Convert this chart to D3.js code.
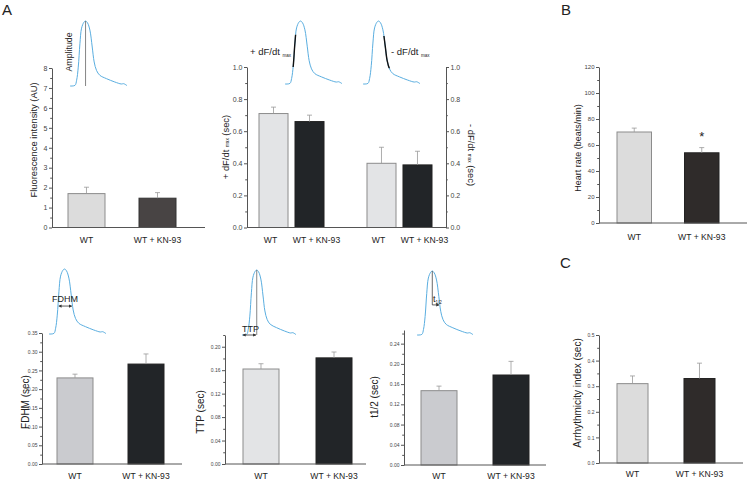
<!DOCTYPE html>
<html><head><meta charset="utf-8">
<script src="https://cdn.jsdelivr.net/npm/d3@7"></script>
<style>body{margin:0;background:#fff}svg{display:block}</style>
</head><body><svg id="c" width="750" height="482"></svg>
<script>
// ---------------- DATA ----------------
const categories = ["WT", "WT + KN-93"];
const amplitudeMean = [1.70, 1.47];
const amplitudeSem  = [0.32, 0.28];
const riseMean = [0.71, 0.66];
const riseSem  = [0.04, 0.04];
const decayMean = [0.40, 0.39];
const decaySem  = [0.10, 0.085];
const heartMean = [70, 54];
const heartSem  = [3, 4];
const fdhmMean = [0.230, 0.267];
const fdhmSem  = [0.010, 0.027];
const ttpMean = [0.162, 0.181];
const ttpSem  = [0.009, 0.010];
const halfMean = [0.147, 0.178];
const halfSem  = [0.009, 0.027];
const arrMean = [0.31, 0.33];
const arrSem  = [0.03, 0.06];

const ampTicks  = [0,1,2,3,4,5,6,7,8];
const ampMinor  = [0.5,1.5,2.5,3.5,4.5,5.5,6.5,7.5];
const dfTicks   = [0,0.2,0.4,0.6,0.8,1.0];
const dfMinor   = [0.1,0.3,0.5,0.7,0.9];
const hrTicks   = [0,20,40,60,80,100,120];
const hrMinor   = [10,30,50,70,90,110];
const fdhmTicks = [0,0.05,0.10,0.15,0.20,0.25,0.30,0.35];
const fdhmMinor = [0.025,0.075,0.125,0.175,0.225,0.275,0.325];
const ttpTicks  = [0,0.04,0.08,0.12,0.16,0.20];
const ttpMinor  = [0.02,0.06,0.10,0.14,0.18,0.22];
const halfTicks = [0,0.04,0.08,0.12,0.16,0.20,0.24];
const halfMinor = [0.02,0.06,0.10,0.14,0.18,0.22,0.26];
const arrTicks  = [0,0.1,0.2,0.3,0.4,0.5];
const arrMinor  = [0.05,0.15,0.25,0.35,0.45];

// normalized Ca2+ transient (time, signal)
const traceTime   = [0,0.087,0.116,0.145,0.174,0.203,0.244,0.273,0.308,0.349,0.39,0.424,0.465,0.523,0.64,0.785,0.90,0.94,0.977,1.0];
const traceSignal = [0,0.01,0.088,0.29,0.65,0.89,0.98,1.0,0.97,0.86,0.60,0.37,0.24,0.165,0.113,0.062,0.031,0.036,0.02,0.005];

// ---------------- DRAWING ----------------
const FONT = '"Liberation Sans", Arial, Helvetica, sans-serif';
const AXIS = "#555";
const TRACE = "#5aaee0";
const CAT_FS = 8.6;
const svg = d3.select("#c").attr("font-family", FONT);
const defs = svg.append("defs");
defs.append("marker").attr("id", "arr").attr("viewBox","0 0 6 6").attr("refX",5).attr("refY",3)
  .attr("markerWidth",4).attr("markerHeight",4).attr("orient","auto-start-reverse")
  .append("path").attr("d", "M0,0 L6,3 L0,6 Z").attr("fill","#333");

function drawYAxis(x, y, ticks, minor, fmt, fs, orient) {
  const axisFn = orient === "right" ? d3.axisRight : d3.axisLeft;
  const g = svg.append("g").attr("transform", `translate(${x},0)`);
  g.call(axisFn(y).tickValues(ticks).tickSize(3).tickSizeOuter(0).tickPadding(1.5).tickFormat(fmt));
  g.select(".domain").attr("stroke", AXIS);
  g.selectAll(".tick line").attr("stroke", AXIS);
  g.selectAll(".tick text").attr("font-size", fs).attr("fill", "#444").attr("font-family", FONT);
  const gm = svg.append("g").attr("transform", `translate(${x},0)`);
  gm.call(axisFn(y).tickValues(minor).tickSize(1.8).tickSizeOuter(0).tickFormat(""));
  gm.select(".domain").remove();
  gm.selectAll(".tick line").attr("stroke", AXIS);
}

function drawBars(xBand, y, means, sems, style) {
  const data = categories.map((c, i) => ({c, m: means[i], s: sems[i], i}));
  const g = svg.append("g");
  g.selectAll("rect").data(data).join("rect")
    .attr("x", d => xBand(d.c)).attr("width", xBand.bandwidth())
    .attr("y", d => y(d.m)).attr("height", d => y(0) - y(d.m))
    .attr("fill", d => style.fill[d.i]).attr("stroke", d => style.stroke[d.i]).attr("stroke-width", 1);
  const cx = d => xBand(d.c) + xBand.bandwidth() / 2;
  g.selectAll("line.e").data(data).join("line").attr("class","e")
    .attr("x1", cx).attr("x2", cx).attr("y1", d => y(d.m)).attr("y2", d => y(d.m + d.s))
    .attr("stroke", "#999").attr("stroke-width", 0.8);
  g.selectAll("line.cap").data(data).join("line").attr("class","cap")
    .attr("x1", d => cx(d) - 2.5).attr("x2", d => cx(d) + 2.5).attr("y1", d => y(d.m + d.s)).attr("y2", d => y(d.m + d.s))
    .attr("stroke", "#999").attr("stroke-width", 0.8);
}

function drawBaseline(x0, x1, yb) {
  svg.append("line").attr("x1", x0).attr("x2", x1).attr("y1", yb).attr("y2", yb).attr("stroke", AXIS);
}

function drawCats(xBand, yText, fs, offsets) {
  const off = offsets || [0, 0];
  svg.append("g").selectAll("text").data(categories).join("text")
    .attr("x", (d, i) => xBand(d) + xBand.bandwidth() / 2 + off[i]).attr("y", yText)
    .attr("text-anchor", "middle").attr("font-size", fs).attr("fill", "#222").text(d => d);
}

function yLabel(x, yc, parts, rot, fs) {
  const t = svg.append("text").attr("transform", `translate(${x},${yc}) rotate(${rot})`)
    .attr("text-anchor", "middle").attr("font-size", fs).attr("fill", "#222").attr("dominant-baseline", "central");
  parts.forEach(p => {
    const s = t.append("tspan").text(p.t);
    if (p.small) s.attr("font-size", fs * 0.5).attr("dy", 2);
    if (p.back) s.attr("dy", -2);
  });
}

function barPanel(o) {
  const y = d3.scaleLinear().domain([0, o.max]).range([o.yb, o.yt]);
  const x = d3.scaleBand().domain(categories).range(o.barRange).paddingInner(o.pad);
  drawBars(x, y, o.means, o.sems, o.style);
  drawBaseline(o.x0, o.x1, o.yb);
  drawYAxis(o.x0, y, o.ticks, o.minor, o.fmt, o.tickFs, "left");
  drawCats(x, o.catY, CAT_FS);
  yLabel(o.labX, o.labY, o.label, -90, o.labFs);
  return {x, y};
}

function drawTrace(x0, x1, yBase, yPeak) {
  const tx = d3.scaleLinear().domain([0, 1]).range([x0, x1]);
  const ty = d3.scaleLinear().domain([0, 1]).range([yBase, yPeak]);
  const pts = traceTime.map((t, i) => ({t, f: traceSignal[i]}));
  const line = d3.line().x(d => tx(d.t)).y(d => ty(d.f)).curve(d3.curveCatmullRom.alpha(0.5));
  svg.append("path").attr("d", line(pts)).attr("fill", "none").attr("stroke", TRACE).attr("stroke-width", 1);
  return {tx, ty, pts, line};
}
const peakIdx = traceSignal.indexOf(d3.max(traceSignal));
const peakT = traceTime[peakIdx];
function crossT(level, side) {
  if (side === "rise") {
    for (let i = 0; i < peakIdx; i++) if (traceSignal[i] <= level && traceSignal[i+1] >= level)
      return traceTime[i] + (level - traceSignal[i]) / (traceSignal[i+1] - traceSignal[i]) * (traceTime[i+1] - traceTime[i]);
  } else {
    for (let i = peakIdx; i < traceSignal.length - 1; i++) if (traceSignal[i] >= level && traceSignal[i+1] <= level)
      return traceTime[i] + (level - traceSignal[i]) / (traceSignal[i+1] - traceSignal[i]) * (traceTime[i+1] - traceTime[i]);
  }
  return peakT;
}
let clipN = 0;
function blackSegment(tr, lo, hi, side) {
  const id = "clip" + (clipN++);
  const xa = side === "rise" ? tr.tx(0) : tr.tx(peakT);
  const xb = side === "rise" ? tr.tx(peakT) : tr.tx(1);
  defs.append("clipPath").attr("id", id).append("rect")
    .attr("x", xa).attr("width", xb - xa).attr("y", tr.ty(hi)).attr("height", tr.ty(lo) - tr.ty(hi));
  svg.append("path").attr("d", tr.line(tr.pts)).attr("fill", "none").attr("stroke", "#111")
    .attr("stroke-width", 1.4).attr("clip-path", `url(#${id})`);
}

// ---- Panel A1: amplitude ----
barPanel({x0: 52, x1: 205, yt: 68, yb: 227.5, max: 8, barRange: [68, 176], pad: 0.479,
  means: amplitudeMean, sems: amplitudeSem, ticks: ampTicks, minor: ampMinor, fmt: d3.format("d"), tickFs: 7,
  style: {fill: ["#dcdcdc", "#484444"], stroke: ["#8c8c8c", "#333"]},
  catY: 243, labX: 33, labY: 140, labFs: 9.4, label: [{t: "Fluorescence intensity (AU)"}]});
{
  const tr = drawTrace(70, 127, 86, 21);
  svg.append("line").attr("x1", tr.tx(peakT)).attr("x2", tr.tx(peakT)).attr("y1", tr.ty(1)).attr("y2", tr.ty(0))
    .attr("stroke", "#666").attr("stroke-width", 0.8);
  svg.append("text").attr("transform", `translate(72,52) rotate(-90)`).attr("text-anchor", "middle")
    .attr("font-size", 8.8).attr("fill", "#222").text("Amplitude");
}

// ---- Panel A2: +/- dF/dt ----
{
  const groups = ["rise", "decay"];
  const gx = d3.scaleBand().domain(groups).range([259, 432]).paddingInner(0.398);
  const y = d3.scaleLinear().domain([0, 1]).range([227.5, 67]);
  const style = {fill: ["#e3e4e6", "#222528"], stroke: ["#8c8c8c", "#222"]};
  [[riseMean, riseSem], [decayMean, decaySem]].forEach(([m, s], gi) => {
    const x = d3.scaleBand().domain(categories).range([gx(groups[gi]), gx(groups[gi]) + gx.bandwidth()]).paddingInner(0.194);
    drawBars(x, y, m, s, style);
    drawCats(x, 243, CAT_FS, [-3, 7]);
  });
  drawBaseline(247, 446, 227.5);
  drawYAxis(247, y, dfTicks, dfMinor, d3.format(".1f"), 7, "left");
  drawYAxis(446, y, dfTicks, dfMinor, d3.format(".1f"), 7, "right");
  yLabel(225, 147, [{t: "+ dF/dt "}, {t: "max", small: true}, {t: " (sec)", back: true}], -90, 9.4);
  yLabel(472, 155, [{t: "- dF/dt "}, {t: "max", small: true}, {t: " (sec)", back: true}], 90, 9.4);

  const t1 = drawTrace(285, 342, 84, 21);
  blackSegment(t1, 0.27, 0.78, "rise");
  const t2 = drawTrace(363, 420, 84, 21);
  blackSegment(t2, 0.25, 0.76, "fall");
  const lab1 = svg.append("text").attr("x", 291).attr("y", 55).attr("text-anchor", "end").attr("font-size", 9.5).attr("fill", "#222");
  lab1.append("tspan").text("+ dF/dt ");
  lab1.append("tspan").attr("font-size", 4.5).attr("dy", 2).text("max");
  const lab2 = svg.append("text").attr("x", 391).attr("y", 55).attr("font-size", 9.5).attr("fill", "#222");
  lab2.append("tspan").text("- dF/dt ");
  lab2.append("tspan").attr("font-size", 4.5).attr("dy", 2).text("max");
}

// ---- Panel B: heart rate ----
{
  const p = barPanel({x0: 599, x1: 747, yt: 67, yb: 223, max: 120, barRange: [617, 719], pad: 0.489,
    means: heartMean, sems: heartSem, ticks: hrTicks, minor: hrMinor, fmt: d3.format("d"), tickFs: 6,
    style: {fill: ["#dcdcdc", "#2f2b2a"], stroke: ["#8c8c8c", "#222"]},
    catY: 240, labX: 578, labY: 148, labFs: 9, label: [{t: "Heart rate (beats/min)"}]});
  svg.append("text").attr("x", p.x(categories[1]) + p.x.bandwidth() / 2).attr("y", p.y(heartMean[1] + heartSem[1]) - 7)
    .attr("text-anchor", "middle").attr("font-size", 13).attr("fill", "#222").text("*");
}

// ---- Panel FDHM ----
barPanel({x0: 42, x1: 182, yt: 333, yb: 464, max: 0.35, barRange: [57, 164], pad: 0.493,
  means: fdhmMean, sems: fdhmSem, ticks: fdhmTicks, minor: fdhmMinor, fmt: d3.format(".2f"), tickFs: 5,
  style: {fill: ["#cacbcf", "#222528"], stroke: ["#8c8c8c", "#222"]},
  catY: 479, labX: 25, labY: 402, labFs: 10, label: [{t: "FDHM (sec)"}]});
{
  const tr = drawTrace(49, 106, 334, 269);
  const lv = 0.43;
  svg.append("line").attr("x1", tr.tx(crossT(lv, "rise")) + 1).attr("x2", tr.tx(crossT(lv, "fall")) - 1)
    .attr("y1", tr.ty(lv)).attr("y2", tr.ty(lv)).attr("stroke", "#333").attr("stroke-width", 0.8)
    .attr("marker-start", "url(#arr)").attr("marker-end", "url(#arr)");
  svg.append("text").attr("x", 52).attr("y", 302).attr("font-size", 9).attr("fill", "#222").text("FDHM");
}

// ---- Panel TTP ----
barPanel({x0: 225, x1: 366, yt: 335, yb: 464, max: 0.22, barRange: [243, 352], pad: 0.507,
  means: ttpMean, sems: ttpSem, ticks: ttpTicks, minor: ttpMinor, fmt: d3.format(".2f"), tickFs: 5,
  style: {fill: ["#e3e4e6", "#222528"], stroke: ["#8c8c8c", "#222"]},
  catY: 479, labX: 200, labY: 412, labFs: 10, label: [{t: "TTP (sec)"}]});
{
  const tr = drawTrace(242, 296, 335, 270);
  svg.append("line").attr("x1", tr.tx(peakT)).attr("x2", tr.tx(peakT)).attr("y1", tr.ty(1)).attr("y2", tr.ty(0))
    .attr("stroke", "#666").attr("stroke-width", 0.8);
  svg.append("line").attr("x1", tr.tx(0) + 1).attr("x2", tr.tx(peakT) - 1).attr("y1", tr.ty(0)).attr("y2", tr.ty(0))
    .attr("stroke", "#333").attr("stroke-width", 0.8)
    .attr("marker-start", "url(#arr)").attr("marker-end", "url(#arr)");
  svg.append("text").attr("x", 242).attr("y", 332).attr("font-size", 9).attr("fill", "#222").text("TTP");
}

// ---- Panel t1/2 ----
barPanel({x0: 404, x1: 546, yt: 330, yb: 465, max: 0.267, barRange: [421, 529], pad: 0.5,
  means: halfMean, sems: halfSem, ticks: halfTicks, minor: halfMinor, fmt: d3.format(".2f"), tickFs: 5,
  style: {fill: ["#cacbcf", "#222528"], stroke: ["#8c8c8c", "#222"]},
  catY: 479, labX: 374, labY: 397, labFs: 10, label: [{t: "t1/2 (sec)"}]});
{
  const tr = drawTrace(417, 473, 335, 271);
  const lv = 0.47;
  svg.append("line").attr("x1", tr.tx(peakT)).attr("x2", tr.tx(peakT)).attr("y1", tr.ty(1)).attr("y2", tr.ty(lv))
    .attr("stroke", "#444").attr("stroke-width", 0.8);
  svg.append("line").attr("x1", tr.tx(peakT)).attr("x2", tr.tx(crossT(lv, "fall")) - 1).attr("y1", tr.ty(lv)).attr("y2", tr.ty(lv))
    .attr("stroke", "#333").attr("stroke-width", 0.8).attr("marker-end", "url(#arr)");
  const tl = svg.append("text").attr("x", 433).attr("y", 302).attr("font-size", 9).attr("fill", "#222");
  tl.append("tspan").text("t");
  tl.append("tspan").attr("font-size", 4.5).attr("dy", 1.5).text("1/2");
}

// ---- Panel C: arrhythmicity ----
barPanel({x0: 599, x1: 743, yt: 335, yb: 463, max: 0.5, barRange: [617, 715], pad: 0.537,
  means: arrMean, sems: arrSem, ticks: arrTicks, minor: arrMinor, fmt: d3.format(".1f"), tickFs: 5,
  style: {fill: ["#dcdcdc", "#2f2b2a"], stroke: ["#8c8c8c", "#222"]},
  catY: 477, labX: 577, labY: 393, labFs: 10, label: [{t: "Arrhythmicity index (sec)"}]});

// ---- Panel letters ----
[["A", 2, 15], ["B", 561, 15], ["C", 560, 268]].forEach(([t, x, y]) =>
  svg.append("text").attr("x", x).attr("y", y).attr("font-size", 15).attr("fill", "#222").text(t));
</script></body></html>
